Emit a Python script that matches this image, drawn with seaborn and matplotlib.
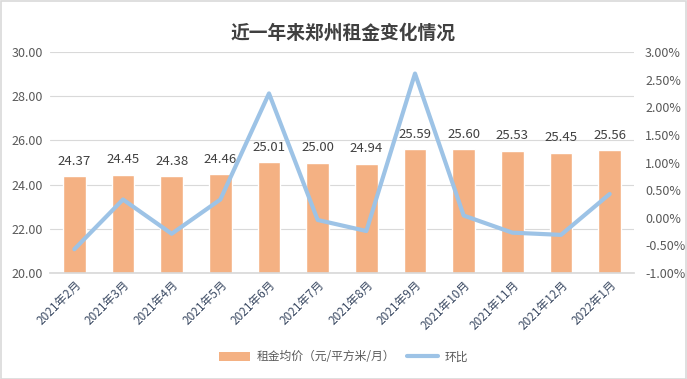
import matplotlib
matplotlib.use("Agg")
import matplotlib.pyplot as plt
import seaborn as sns
import pandas as pd
from matplotlib.patches import Patch, Rectangle
from matplotlib.lines import Line2D
from matplotlib.ticker import FuncFormatter

sns.set_theme(style="white")
plt.rcParams['font.family'] = ['Noto Sans CJK SC', 'DejaVu Sans']

months = ["2021年2月", "2021年3月", "2021年4月", "2021年5月", "2021年6月", "2021年7月",
          "2021年8月", "2021年9月", "2021年10月", "2021年11月", "2021年12月", "2022年1月"]
rent = [24.37, 24.45, 24.38, 24.46, 25.01, 25.00, 24.94, 25.59, 25.60, 25.53, 25.45, 25.56]
mom = [-0.57, 0.33, -0.29, 0.33, 2.25, -0.04, -0.24, 2.61, 0.04, -0.27, -0.31, 0.43]

df = pd.DataFrame({"month": months, "rent": rent, "mom": mom})

W, H = 687, 379
fig = plt.figure(figsize=(W / 100, H / 100), dpi=100)
ax = fig.add_axes([50 / W, 1 - 273 / H, 584 / W, 221 / H])

bar_color = "#F4B183"
line_color = "#9DC3E6"
text_color = "#595959"

sns.barplot(data=df, x="month", y="rent", color=bar_color, width=0.46,
            saturation=1, ax=ax, zorder=2)
ax.set_ylim(20, 30)
ax.set_yticks([20, 22, 24, 26, 28, 30])
ax.yaxis.set_major_formatter(FuncFormatter(lambda v, p: f"{v:.2f}"))
ax.grid(axis="y", color="#D9D9D9", linewidth=0.8, zorder=0)
ax.set_axisbelow(True)
for c in ax.containers:
    ax.bar_label(c, labels=[f"{v:.2f}" for v in rent], padding=6,
                 fontsize=9.5, color="#404040")

ax2 = ax.twinx()
sns.lineplot(data=df, x="month", y="mom", color=line_color, linewidth=3,
             ax=ax2, zorder=3)
ax2.set_ylim(-1, 3)
ax2.set_yticks([-1, -0.5, 0, 0.5, 1, 1.5, 2, 2.5, 3])
ax2.yaxis.set_major_formatter(FuncFormatter(lambda v, p: f"{v:.2f}%"))

for a, pad in ((ax, 5), (ax2, 8)):
    a.set_xlabel("")
    a.set_ylabel("")
    for s in a.spines.values():
        s.set_visible(False)
    a.tick_params(axis="y", length=0, labelsize=9, labelcolor=text_color, pad=pad)
ax.spines["bottom"].set_visible(True)
ax.spines["bottom"].set_color("#D9D9D9")
ax.set_xlim(-0.5, 11.5)
ax.tick_params(axis="x", length=0, pad=4)
ax.set_xticks(range(len(months)))
ax.set_xticklabels(months, rotation=45, ha="right", rotation_mode="anchor",
                   fontsize=8.5, color="#3B4A63")

fig.text(0.5, 1 - 33 / H, "近一年来郑州租金变化情况", ha="center", va="center",
         fontsize=13.5, fontweight="bold", color="#404040")

handles = [Patch(facecolor=bar_color, edgecolor="none"),
           Line2D([0], [0], color=line_color, linewidth=3)]
fig.legend(handles, ["租金均价（元/平方米/月）", "环比"], loc="center",
           bbox_to_anchor=(0.5, 1 - 357 / H), ncol=2, frameon=False,
           fontsize=8.5, labelcolor=text_color, handlelength=2.6,
           handleheight=0.8, columnspacing=1.0, handletextpad=0.6)

fig.patches.append(Rectangle((0.5 / W, 0.5 / H), 1 - 1.5 / W, 1 - 1.5 / H,
                             transform=fig.transFigure, fill=False,
                             edgecolor="#D9D9D9", linewidth=1.2))

fig.savefig("out.png", dpi=100)
